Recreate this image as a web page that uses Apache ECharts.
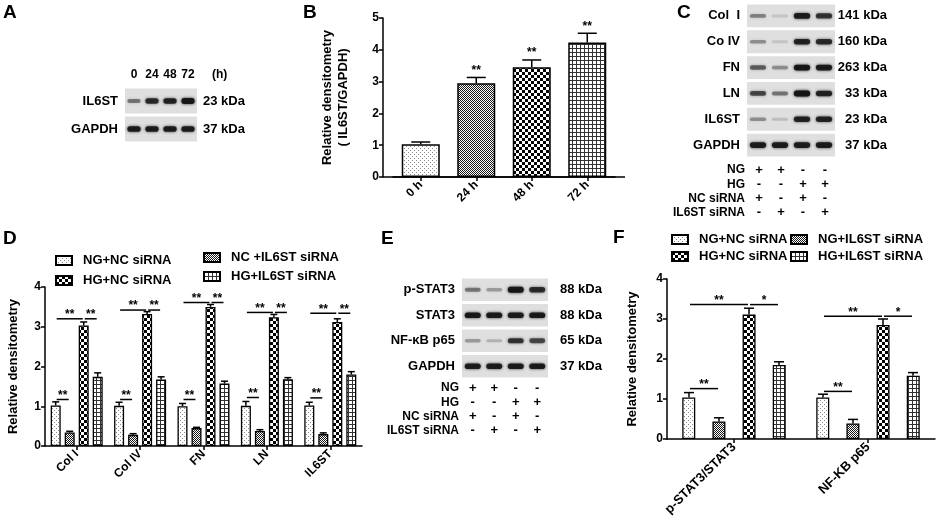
<!DOCTYPE html>
<html>
<head>
<meta charset="utf-8">
<script src="https://cdn.jsdelivr.net/npm/echarts@6/dist/echarts.min.js"></script>
<style>
  html, body { margin: 0; padding: 0; background: #fff; }
  #main { width: 941px; height: 529px; }
</style>
</head>
<body>
<div id="main"></div>
<script>
// ---- panel B: IL6ST over time
const timeCats = ['0 h', '24 h', '48 h', '72 h'];
const timeVals = [1.03, 2.95, 3.45, 4.23];
const timeErr = [1.10, 3.13, 3.68, 4.52];
const timeSig = ['', '**', '**', '**'];

// ---- panel D: ECM proteins
const ecmCats = ['Col I', 'Col IV', 'FN', 'LN', 'IL6ST'];
const dNgNc = [1.02, 1.01, 1.00, 1.01, 1.02];
const dNgNcErr = [1.11, 1.10, 1.07, 1.12, 1.10];
const dNcIl = [0.34, 0.28, 0.45, 0.38, 0.30];
const dNcIlErr = [0.37, 0.31, 0.47, 0.41, 0.33];
const dHgNc = [3.03, 3.32, 3.50, 3.24, 3.12];
const dHgNcErr = [3.12, 3.38, 3.56, 3.31, 3.20];
const dHgIl = [1.74, 1.67, 1.57, 1.68, 1.80];
const dHgIlErr = [1.84, 1.74, 1.63, 1.72, 1.87];
// [category, height, from bar, to bar, text]
const dSig = [
  [0, 1.17, 0, 1, '**'], [0, 3.20, 0, 2, '**'], [0, 3.20, 2, 3, '**'],
  [1, 1.17, 0, 1, '**'], [1, 3.42, 0, 2, '**'], [1, 3.42, 2, 3, '**'],
  [2, 1.17, 0, 1, '**'], [2, 3.61, 0, 2, '**'], [2, 3.61, 2, 3, '**'],
  [3, 1.22, 0, 1, '**'], [3, 3.36, 0, 2, '**'], [3, 3.36, 2, 3, '**'],
  [4, 1.21, 0, 1, '**'], [4, 3.34, 0, 2, '**'], [4, 3.34, 2, 3, '**']
];

// ---- panel F: signalling
const sigCats = ['p-STAT3/STAT3', 'NF-KB p65'];
const fNgNc = [1.04, 1.04];
const fNgNcErr = [1.16, 1.12];
const fNgIl = [0.44, 0.39];
const fNgIlErr = [0.53, 0.49];
const fHgNc = [3.11, 2.85];
const fHgNcErr = [3.27, 3.00];
const fHgIl = [1.85, 1.58];
const fHgIlErr = [1.93, 1.66];
const fSig = [
  [0, 1.26, 0, 1, '**'], [0, 3.36, 0, 2, '**'], [0, 3.36, 2, 3, '*'],
  [1, 1.19, 0, 1, '**'], [1, 3.07, 0, 2, '**'], [1, 3.07, 2, 3, '*']
];

// ---- blots (band intensity 0..1 per lane)
const aLanes = ['0', '24', '48', '72'];
const aRows = ['IL6ST', 'GAPDH'];
const aKda = ['23 kDa', '37 kDa'];
const aIl6st = [0.45, 0.8, 0.85, 0.95];
const aGapdh = [0.9, 0.9, 0.9, 0.9];

const cRows = ['Col  I', 'Co IV', 'FN', 'LN', 'IL6ST', 'GAPDH'];
const cKda = ['141 kDa', '160 kDa', '263 kDa', '33 kDa', '23 kDa', '37 kDa'];
const cCol1 = [0.4, 0.12, 0.9, 0.75];
const cCol4 = [0.35, 0.12, 0.85, 0.8];
const cFn = [0.55, 0.35, 0.95, 0.9];
const cLn = [0.65, 0.45, 0.98, 0.85];
const cIl6st = [0.35, 0.15, 0.85, 0.85];
const cGapdh = [0.9, 0.9, 0.9, 0.9];

const eRows = ['p-STAT3', 'STAT3', 'NF-κB p65', 'GAPDH'];
const eKda = ['88 kDa', '88 kDa', '65 kDa', '37 kDa'];
const ePstat3 = [0.45, 0.3, 0.95, 0.8];
const eStat3 = [0.92, 0.92, 0.9, 0.92];
const eNfkb = [0.3, 0.2, 0.75, 0.65];
const eGapdh = [0.9, 0.9, 0.9, 0.9];

// treatment table (+/-)
const treatRows = ['NG', 'HG', 'NC siRNA', 'IL6ST siRNA'];
const ngSigns = ['+', '+', '-', '-'];
const hgSigns = ['-', '-', '+', '+'];
const ncSigns = ['+', '-', '+', '-'];
const ilSigns = ['-', '+', '-', '+'];

const FONT = '"Liberation Sans", Arial, sans-serif';

function pattern(kind) {
  const c = document.createElement('canvas');
  const g = c.getContext('2d');
  let s = 4;
  if (kind === 'dense') s = 2;
  if (kind === 'checker') s = 6;
  c.width = s; c.height = s;
  g.fillStyle = '#fff';
  g.fillRect(0, 0, s, s);
  if (kind === 'dots') {
    g.fillStyle = '#8a8a8a';
    g.fillRect(0, 0, 1, 1);
    g.fillRect(2, 2, 1, 1);
  } else if (kind === 'dense') {
    g.fillStyle = '#1a1a1a';
    g.fillRect(0, 0, 1, 1);
    g.fillRect(1, 1, 1, 1);
  } else if (kind === 'checker') {
    g.fillStyle = '#000';
    g.fillRect(0, 0, 3, 3);
    g.fillRect(3, 3, 3, 3);
  } else {
    g.fillStyle = '#333';
    g.fillRect(0, 0, s, 1);
    g.fillRect(0, 0, 1, s);
  }
  return { image: c, repeat: 'repeat' };
}
const fills = [pattern('dots'), pattern('dense'), pattern('checker'), pattern('grid')];

const ink = { stroke: '#000', lineWidth: 1.5 };
const boldText = (size) => ({ color: '#000', fontWeight: 'bold', fontSize: size, fontFamily: FONT });

function errorSeries(axis, vals, errs, slot, pitch, cap) {
  return {
    type: 'custom', xAxisIndex: axis, yAxisIndex: axis, z: 3, silent: true,
    data: vals.map((v, i) => [i, v, errs[i]]),
    renderItem: (p, api) => {
      const base = api.coord([api.value(0), api.value(1)]);
      const top = api.coord([api.value(0), api.value(2)]);
      const x = base[0] + slot * pitch;
      return { type: 'group', children: [
        { type: 'line', shape: { x1: x, y1: base[1], x2: x, y2: top[1] }, style: ink },
        { type: 'line', shape: { x1: x - cap / 2, y1: top[1], x2: x + cap / 2, y2: top[1] }, style: ink }
      ] };
    }
  };
}

function sigSeries(axis, marks, pitch) {
  return {
    type: 'custom', xAxisIndex: axis, yAxisIndex: axis, z: 4, silent: true,
    data: marks.map(m => [m[0], m[1]]),
    renderItem: (p, api) => {
      const m = marks[p.dataIndex];
      const c = api.coord([m[0], m[1]]);
      const x1 = c[0] + (m[2] - 1.5) * pitch + 1;
      const x2 = c[0] + (m[3] - 1.5) * pitch - 1;
      return { type: 'group', children: [
        { type: 'line', shape: { x1: x1, y1: c[1], x2: x2, y2: c[1] }, style: ink },
        { type: 'text', x: (x1 + x2) / 2, y: c[1] + 2,
          style: { text: m[4], font: 'bold 12px ' + FONT, fill: '#000', align: 'center', verticalAlign: 'bottom' } }
      ] };
    }
  };
}

function barSeries(axis, name, data, idx, width, gap) {
  return {
    type: 'bar', name: name, xAxisIndex: axis, yAxisIndex: axis, data: data,
    barWidth: width, barGap: gap, z: 2,
    itemStyle: { color: fills[idx], borderColor: '#000', borderWidth: 1.3 }
  };
}

function blotBack(xi, yi, rows) {
  return {
    type: 'custom', xAxisIndex: xi, yAxisIndex: yi, silent: true, z: 1,
    data: rows.map((r, i) => [0, i]),
    renderItem: (p, api) => {
      const c = api.coord([0, api.value(1)]);
      const h = api.size([0, 1])[1];
      return { type: 'rect',
        shape: { x: p.coordSys.x, y: c[1] - h / 2 + 1.5, width: p.coordSys.width, height: h - 3 },
        style: { fill: '#dfdfdf' } };
    }
  };
}

function blotBands(xi, yi, rowsData) {
  const data = [];
  rowsData.forEach((lanes, r) => lanes.forEach((a, l) => data.push([l, r, a])));
  return {
    type: 'custom', xAxisIndex: xi, yAxisIndex: yi, silent: true, z: 2,
    data: data,
    renderItem: (p, api) => {
      const c = api.coord([api.value(0), api.value(1)]);
      const a = api.value(2);
      const w = api.size([1, 0])[0] * 0.74;
      const h = 2.5 + 3.5 * a;
      const col = 'rgba(20,20,20,' + a + ')';
      return { type: 'rect',
        shape: { x: c[0] - w / 2, y: c[1] - h / 2, width: w, height: h, r: h / 2 },
        style: { fill: col, shadowBlur: 3, shadowColor: col } };
    }
  };
}

function signTable(xi, yi, rowsSigns) {
  const data = [];
  rowsSigns.forEach((signs, r) => signs.forEach((s, l) => data.push([l, r])));
  return {
    type: 'custom', xAxisIndex: xi, yAxisIndex: yi, silent: true,
    data: data,
    renderItem: (p, api) => {
      const c = api.coord([api.value(0), api.value(1)]);
      const s = rowsSigns[api.value(1)][api.value(0)];
      return { type: 'text', x: c[0], y: c[1],
        style: { text: s, font: 'bold 13px ' + FONT, fill: '#000', align: 'center', verticalAlign: 'middle' } };
    }
  };
}

const valueAxis = (grid, max, name, gap, extra) => Object.assign({
  gridIndex: grid, type: 'value', min: 0, max: max, interval: 1,
  axisLine: { show: true, lineStyle: { color: '#000', width: 1.5 } },
  axisTick: { show: true, length: 4, lineStyle: { color: '#000', width: 1.5 } },
  splitLine: { show: false },
  axisLabel: Object.assign(boldText(12), { margin: 4 }),
  name: name, nameLocation: 'middle', nameGap: gap,
  nameTextStyle: Object.assign(boldText(13), { lineHeight: 16 })
}, extra || {});

const catAxis = (grid, data, size) => ({
  gridIndex: grid, type: 'category', data: data,
  axisLine: { show: true, lineStyle: { color: '#000', width: 1.5 } },
  axisTick: { show: true, alignWithLabel: true, length: 4, lineStyle: { color: '#000', width: 1.5 } },
  axisLabel: Object.assign(boldText(size), { rotate: 45, margin: 6, interval: 0 })
});

const hiddenCat = (grid, data) => ({ gridIndex: grid, type: 'category', data: data, show: false });

const rowAxis = (grid, data, pos, margin, align, size) => ({
  gridIndex: grid, type: 'category', data: data, inverse: true, position: pos,
  axisLine: { show: false }, axisTick: { show: false },
  axisLabel: Object.assign(boldText(size || 13), { margin: margin, align: align, interval: 0 })
});

const legendBase = (left, top, data, gap) => ({
  orient: 'vertical', left: left, top: top, data: data, icon: 'rect', padding: 0,
  itemWidth: 16, itemHeight: 9, itemGap: gap, selectedMode: false,
  textStyle: Object.assign(boldText(13), { padding: [0, 0, 0, 6] })
});

const letter = (t, x, y) => ({ type: 'text', left: x, top: y,
  style: { text: t, font: 'bold 19px ' + FONT, fill: '#000' } });

const lanes4 = ['1', '2', '3', '4'];

const option = {
  animation: false,
  backgroundColor: '#fff',
  grid: [
    { left: 393, top: 18, width: 222, height: 159 },   // 0 B
    { left: 45, top: 287, width: 317, height: 159 },   // 1 D
    { left: 667, top: 279, width: 268, height: 160 },  // 2 F
    { left: 125, top: 87, width: 72, height: 56 },     // 3 A blot
    { left: 747, top: 3, width: 88, height: 155 },     // 4 C blot
    { left: 748, top: 163, width: 88, height: 57 },    // 5 C table
    { left: 462, top: 277, width: 86, height: 102 },   // 6 E blot
    { left: 462, top: 381, width: 86, height: 57 }     // 7 E table
  ],
  xAxis: [
    catAxis(0, timeCats, 12),
    catAxis(1, ecmCats, 12),
    catAxis(2, sigCats, 13),
    { gridIndex: 3, type: 'category', data: aLanes, position: 'top',
      axisLine: { show: false }, axisTick: { show: false },
      axisLabel: Object.assign(boldText(12), { margin: 6 }) },
    hiddenCat(4, lanes4),
    hiddenCat(5, lanes4),
    hiddenCat(6, lanes4),
    hiddenCat(7, lanes4)
  ],
  yAxis: [
    valueAxis(0, 5, 'Relative densitometry\n( IL6ST/GAPDH)', 32, { offset: 10 }),
    valueAxis(1, 4, 'Relative densitometry', 24),
    valueAxis(2, 4, 'Relative densitometry', 27),
    rowAxis(3, aRows, 'left', 7, 'right'),
    rowAxis(3, aKda, 'right', 6, 'left'),
    rowAxis(4, cRows, 'left', 7, 'right'),
    rowAxis(4, cKda, 'right', 52, 'right'),
    rowAxis(5, treatRows, 'left', 3, 'right', 12),
    rowAxis(6, eRows, 'left', 7, 'right'),
    rowAxis(6, eKda, 'right', 12, 'left'),
    rowAxis(7, treatRows, 'left', 3, 'right', 12)
  ],
  legend: [
    legendBase(55, 254, ['NG+NC siRNA', 'HG+NC siRNA'], 7),
    legendBase(203, 251, ['NC +IL6ST siRNA', 'HG+IL6ST siRNA'], 6),
    legendBase(671, 233, ['NG+NC siRNA', 'HG+NC siRNA'], 4),
    legendBase(790, 233, ['NG+IL6ST siRNA', 'HG+IL6ST siRNA'], 4)
  ],
  graphic: [
    letter('A', 3, 3), letter('B', 303, 3), letter('C', 677, 3),
    letter('D', 3, 229), letter('E', 381, 229), letter('F', 613, 228),
    { type: 'text', left: 212, top: 69, style: { text: '(h)', font: 'bold 12px ' + FONT, fill: '#000' } },
    { type: 'line', shape: { x1: 383, y1: 177, x2: 625, y2: 177 }, style: ink, z: 10 }
  ],
  series: [
    // B
    { type: 'bar', xAxisIndex: 0, yAxisIndex: 0, barWidth: 38, z: 2,
      data: timeVals.map((v, i) => ({ value: v, itemStyle: { color: fills[i] } })),
      itemStyle: { borderColor: '#000', borderWidth: 1.5 } },
    errorSeries(0, timeVals, timeErr, 0, 0, 19),
    { type: 'custom', xAxisIndex: 0, yAxisIndex: 0, silent: true, z: 4,
      data: timeErr.map((v, i) => [i, v]),
      renderItem: (p, api) => {
        const c = api.coord([api.value(0), api.value(1)]);
        return { type: 'text', x: c[0], y: c[1] - 1,
          style: { text: timeSig[p.dataIndex], font: 'bold 12px ' + FONT, fill: '#000', align: 'center', verticalAlign: 'bottom' } };
      } },
    // D
    barSeries(1, 'NG+NC siRNA', dNgNc, 0, 10, '40%'),
    barSeries(1, 'NC +IL6ST siRNA', dNcIl, 1, 10, '40%'),
    barSeries(1, 'HG+NC siRNA', dHgNc, 2, 10, '40%'),
    barSeries(1, 'HG+IL6ST siRNA', dHgIl, 3, 10, '40%'),
    errorSeries(1, dNgNc, dNgNcErr, -1.5, 14, 7),
    errorSeries(1, dNcIl, dNcIlErr, -0.5, 14, 7),
    errorSeries(1, dHgNc, dHgNcErr, 0.5, 14, 7),
    errorSeries(1, dHgIl, dHgIlErr, 1.5, 14, 7),
    sigSeries(1, dSig, 14),
    // F
    barSeries(2, 'NG+NC siRNA', fNgNc, 0, 13, '132%'),
    barSeries(2, 'NG+IL6ST siRNA', fNgIl, 1, 13, '132%'),
    barSeries(2, 'HG+NC siRNA', fHgNc, 2, 13, '132%'),
    barSeries(2, 'HG+IL6ST siRNA', fHgIl, 3, 13, '132%'),
    errorSeries(2, fNgNc, fNgNcErr, -1.5, 30, 10),
    errorSeries(2, fNgIl, fNgIlErr, -0.5, 30, 10),
    errorSeries(2, fHgNc, fHgNcErr, 0.5, 30, 10),
    errorSeries(2, fHgIl, fHgIlErr, 1.5, 30, 10),
    sigSeries(2, fSig, 30),
    // A blot
    blotBack(3, 3, aRows),
    blotBands(3, 3, [aIl6st, aGapdh]),
    // C blot + table
    blotBack(4, 5, cRows),
    blotBands(4, 5, [cCol1, cCol4, cFn, cLn, cIl6st, cGapdh]),
    signTable(5, 7, [ngSigns, hgSigns, ncSigns, ilSigns]),
    // E blot + table
    blotBack(6, 8, eRows),
    blotBands(6, 8, [ePstat3, eStat3, eNfkb, eGapdh]),
    signTable(7, 10, [ngSigns, hgSigns, ncSigns, ilSigns])
  ]
};

const chart = echarts.init(document.getElementById('main'));
chart.setOption(option);
</script>
</body>
</html>
